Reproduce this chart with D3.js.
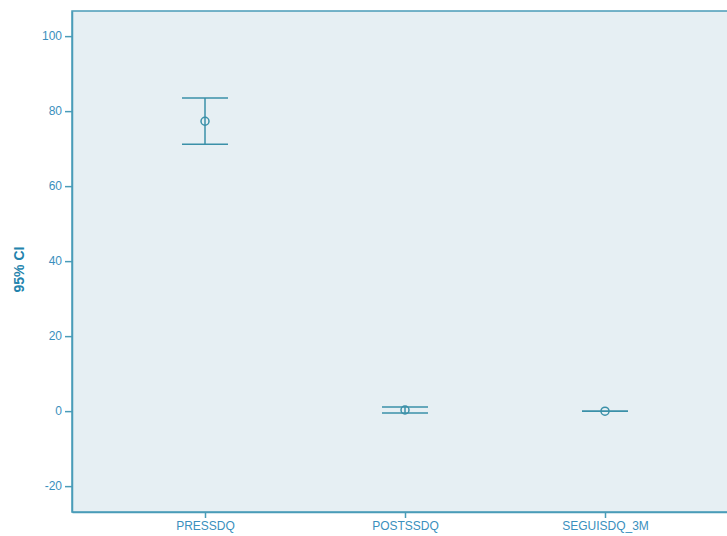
<!DOCTYPE html>
<html>
<head>
<meta charset="utf-8">
<script src="https://cdn.jsdelivr.net/npm/d3@7"></script>
<style>
  html, body { margin: 0; padding: 0; background: #ffffff; }
  svg { display: block; font-family: "Liberation Sans", Arial, sans-serif; }
</style>
</head>
<body>
<svg id="chart" width="727" height="536"></svg>
<script>
// Variables measured at three time points
const categories = ["PRESSDQ", "POSTSSDQ", "SEGUISDQ_3M"];
// Mean and 95% confidence interval bounds for each variable
const means = [77.3, 0.3, 0.0];
const lowerCI = [71.2, -0.5, 0.0];
const upperCI = [83.5, 1.1, 0.0];
const yTicks = [-20, 0, 20, 40, 60, 80, 100];

const markColor = "#3a90a8";
const axisColor = "#4a9cb8";
const textColor = "#3a8fbd";
const bgColor = "#e6eff3";

const svg = d3.select("#chart");
const plot = { left: 72, right: 738, top: 11, bottom: 512 };

const x = d3.scalePoint()
  .domain(categories)
  .range([plot.left, plot.right])
  .padding(0.665);

const y = d3.scaleLinear()
  .domain([-26.9, 106.7])
  .range([plot.bottom, plot.top]);

// Plot background and frame
svg.append("rect")
  .attr("x", plot.left).attr("y", plot.top)
  .attr("width", plot.right - plot.left).attr("height", plot.bottom - plot.top)
  .attr("fill", bgColor)
  .attr("stroke", axisColor).attr("stroke-width", 1.5);

// Axes
const yAxis = svg.append("g")
  .attr("transform", `translate(${plot.left},0)`)
  .call(d3.axisLeft(y).tickValues(yTicks).tickFormat(d => String(d))
    .tickSize(7).tickPadding(3).tickSizeOuter(0));
const xAxis = svg.append("g")
  .attr("transform", `translate(0,${plot.bottom})`)
  .call(d3.axisBottom(x).tickSize(6).tickPadding(3).tickSizeOuter(0));

[yAxis, xAxis].forEach(g => {
  g.select(".domain").attr("stroke", axisColor).attr("stroke-width", 1.5);
  g.selectAll(".tick line").attr("stroke", axisColor).attr("stroke-width", 1.5);
  g.selectAll(".tick text")
    .attr("fill", textColor)
    .style("font-size", "12px")
    .style("font-family", "\"Liberation Sans\", Arial, sans-serif");
});

// Y axis title
svg.append("text")
  .attr("transform", `translate(24,${(plot.top + plot.bottom) / 2 + 8}) rotate(-90)`)
  .attr("text-anchor", "middle")
  .attr("fill", "#2383ad")
  .style("font-size", "14px")
  .style("font-weight", "bold")
  .text("95% CI");

// Error bars
const capHalf = 23;
const groups = svg.append("g").selectAll("g")
  .data(categories.map((c, i) => ({ c, m: means[i], lo: lowerCI[i], hi: upperCI[i] })))
  .join("g");

groups.append("line")
  .attr("x1", d => x(d.c)).attr("x2", d => x(d.c))
  .attr("y1", d => y(d.hi)).attr("y2", d => y(d.lo))
  .attr("stroke", markColor).attr("stroke-width", 1.5);

groups.append("line")
  .attr("x1", d => x(d.c) - capHalf).attr("x2", d => x(d.c) + capHalf)
  .attr("y1", d => y(d.hi)).attr("y2", d => y(d.hi))
  .attr("stroke", markColor).attr("stroke-width", 1.5);

groups.append("line")
  .attr("x1", d => x(d.c) - capHalf).attr("x2", d => x(d.c) + capHalf)
  .attr("y1", d => y(d.lo)).attr("y2", d => y(d.lo))
  .attr("stroke", markColor).attr("stroke-width", 1.5);

groups.append("circle")
  .attr("cx", d => x(d.c)).attr("cy", d => y(d.m))
  .attr("r", 4)
  .attr("fill", "none")
  .attr("stroke", markColor).attr("stroke-width", 1.5);
</script>
</body>
</html>
